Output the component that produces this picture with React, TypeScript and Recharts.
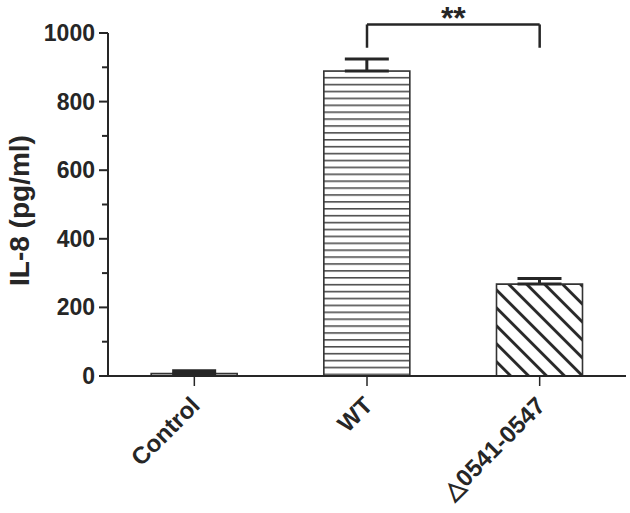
import React from 'react';
import {
  BarChart,
  Bar,
  Cell,
  XAxis,
  YAxis,
  ErrorBar,
  ReferenceLine,
} from 'recharts';

const categories = ['Control', 'WT', '△0541-0547'];
const means = [7, 889, 268];
const errUp = [8, 35, 16];
const yTicks = [0, 100, 200, 300, 400, 500, 600, 700, 800, 900, 1000];
const fills = ['#ffffff', 'url(#hstripe)', 'url(#dstripe)'];

const data = categories.map((name, i) => ({
  name,
  mean: means[i],
  err: [0, errUp[i]],
}));

const INK = '#262626';
const FONT = '"Liberation Sans", Arial, sans-serif';

const YTick = (props: any) => {
  const { x, y, payload } = props;
  const major = payload.value % 200 === 0;
  return (
    <g>
      <line x1={x - (major ? 9 : 6)} x2={x} y1={y} y2={y} stroke={INK} strokeWidth={2} />
      {major && (
        <text
          x={x - 13}
          y={y}
          dy={8}
          textAnchor="end"
          fontFamily={FONT}
          fontWeight="bold"
          fontSize={23}
          fill={INK}
        >
          {payload.value}
        </text>
      )}
    </g>
  );
};

const XTick = (props: any) => {
  const { x, y, payload } = props;
  const tx = x + 7;
  const ty = y + 21;
  return (
    <text
      x={tx}
      y={ty}
      transform={`rotate(-45, ${tx}, ${ty})`}
      textAnchor="end"
      fontFamily={FONT}
      fontWeight="bold"
      fontSize={24}
      fill={INK}
    >
      {payload.value}
    </text>
  );
};

const YLabel = (props: any) => {
  const vb = props.viewBox;
  const cx = vb.x + 11;
  const cy = vb.y + vb.height / 2 + 6;
  return (
    <text
      x={cx}
      y={cy}
      transform={`rotate(-90, ${cx}, ${cy})`}
      textAnchor="middle"
      dominantBaseline="central"
      fontFamily={FONT}
      fontWeight="bold"
      fontSize={28}
      fill={INK}
    >
      IL-8 (pg/ml)
    </text>
  );
};

export default function App() {
  return (
    <div style={{ position: 'absolute', left: 0, top: 0, background: '#fff' }}>
      <BarChart
        width={630}
        height={513}
        data={data}
        margin={{ top: 33, right: 4, bottom: 7, left: 8 }}
        barCategoryGap="25%"
      >
        <defs>
          <pattern id="hstripe" patternUnits="userSpaceOnUse" width={8} height={6.9}>
            <rect width={8} height={6.9} fill="#fff" />
            <line x1={0} x2={8} y1={1.8} y2={1.8} stroke="#333" strokeWidth={1.4} />
          </pattern>
          <pattern
            id="dstripe"
            patternUnits="userSpaceOnUse"
            width={12.7}
            height={12.7}
            patternTransform="rotate(45)"
          >
            <rect width={12.7} height={12.7} fill="#fff" />
            <line x1={0} x2={12.7} y1={6.35} y2={6.35} stroke="#222" strokeWidth={2.8} />
          </pattern>
        </defs>
        <XAxis
          dataKey="name"
          height={130}
          stroke={INK}
          strokeWidth={2}
          tickSize={10}
          tickLine={{ stroke: INK, strokeWidth: 1.5 }}
          tickMargin={0}
          tick={<XTick />}
          interval={0}
        />
        <YAxis
          domain={[0, 1000]}
          ticks={yTicks}
          width={100}
          stroke={INK}
          strokeWidth={2}
          tickLine={false}
          tickSize={0}
          tickMargin={0}
          tick={<YTick />}
          interval={0}
          allowDataOverflow
          label={<YLabel />}
        />
        <Bar dataKey="mean" stroke="#333" strokeWidth={1.6} isAnimationActive={false}>
          {data.map((d, i) => (
            <Cell key={d.name} fill={fills[i]} />
          ))}
          <ErrorBar dataKey="err" width={22} stroke={INK} strokeWidth={3} direction="y" />
        </Bar>
        <ReferenceLine
          segment={[
            { x: 'WT', y: 1025 },
            { x: '△0541-0547', y: 1025 },
          ]}
          stroke={INK}
          strokeWidth={2.5}
          ifOverflow="visible"
          label={{
            value: '**',
            position: 'top',
            offset: -5,
            fontFamily: FONT,
            fontWeight: 'bold',
            fontSize: 32,
            fill: INK,
          }}
        />
        <ReferenceLine
          segment={[
            { x: 'WT', y: 1025 },
            { x: 'WT', y: 957 },
          ]}
          stroke={INK}
          strokeWidth={2.5}
          ifOverflow="visible"
        />
        <ReferenceLine
          segment={[
            { x: '△0541-0547', y: 1025 },
            { x: '△0541-0547', y: 957 },
          ]}
          stroke={INK}
          strokeWidth={2.5}
          ifOverflow="visible"
        />
      </BarChart>
    </div>
  );
}
